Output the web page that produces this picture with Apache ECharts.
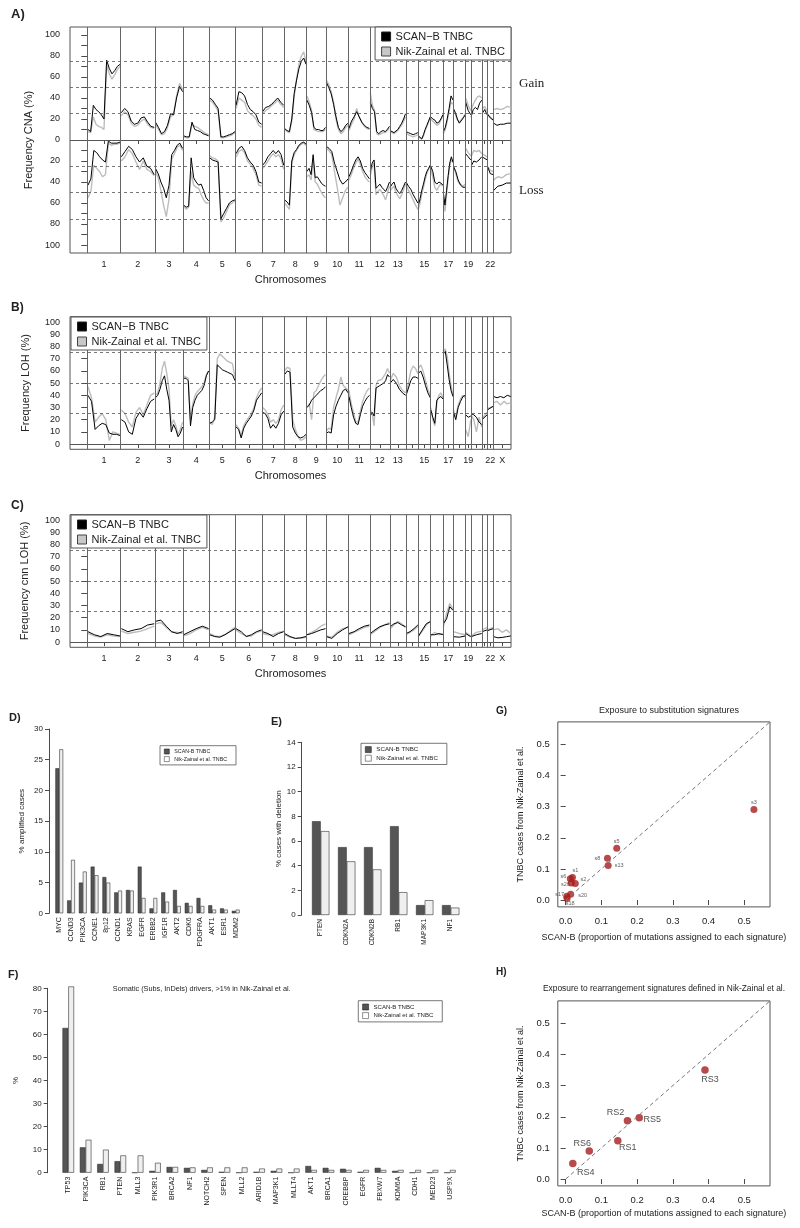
<!DOCTYPE html>
<html><head><meta charset="utf-8">
<script src="https://cdn.jsdelivr.net/npm/echarts@6/dist/echarts.min.js"></script>
<style>html,body{margin:0;padding:0;background:#fff}#c{width:800px;height:1228px}</style>
</head><body><div id="c"></div>
<script>
// ================= DATA =================
const chromNames = ['1','2','3','4','5','6','7','8','9','10','11','12','13','14','15','16','17','18','19','20','21','22','X'];
// relative chromosome widths as drawn in the figure
const chromLen = [250,257,212,195,198,200,165,168,145,170,160,150,120,92,93,95,75,93,40,83,40,45,133];
const labelsA = ['1','2','3','4','5','6','7','8','9','10','11','12','13','15','17','19','22'];
const labelsBC = ['1','2','3','4','5','6','7','8','9','10','11','12','13','15','17','19','22','X'];

// Panel A: CNA gain / loss frequency (%) along each chromosome
const cnaGainScanB = [
 [10,8,33,29,27,24,20,76,68,63,66,70,72],[26,30,27,18,15,16,21,22,17,13,12],[17,12,6,8,14,25,24,40,51,46],
 [4,3,3,17,10,9,8,6,5,4],[40,38,34,30,3,3,4,5,6,8],[33,46,45,42,34,29,27,24,17,15],[27,31,32,34,37,40,36,33],
 [11,9,8,20,44,57,68,75,78,72],[38,33,26,12,10,10,9,9,12],[55,50,44,34,22,12,8,10,14,16],[11,18,22,27,22,17,14,12,11],
 [36,30,27,8,6,8,9,8,10,13],[9,8,7,8,10,13,16,20,25],[8,7,6,5,6,7],[4,3,1,5,10,14,18,22],[22,20,19,16,17,20,24],
 [8,12,20,30,42,38],[30,26,20,16,17,21,24],[36,28,24],[22,29,31,29,35,38],[25,29,24],[25,21,19],[16,14,15,15,16,16]];
const cnaGainNik = [
 [8,7,22,15,13,12,10,72,63,58,62,67,70],[23,27,24,16,13,14,18,20,15,12,11],[15,10,5,6,12,22,24,42,54,48],
 [3,2,2,15,13,12,10,8,6,5],[38,36,32,28,2,2,3,4,5,7],[30,40,38,36,28,25,23,20,14,12],[25,28,30,33,35,38,34,31],
 [10,8,7,18,42,58,72,80,84,74],[42,36,28,10,9,8,8,8,10],[57,53,46,36,20,10,6,8,12,14],[9,15,20,30,22,17,13,11,10],
 [45,33,28,6,5,6,7,7,9,11],[8,7,6,7,9,12,14,18,22],[7,5,4,3,4,5],[3,2,1,4,9,13,17,22],[20,18,16,14,15,19,24],
 [6,10,18,28,36,34],[28,25,19,17,18,22,25],[40,33,28],[28,34,38,41,42,40],[29,32,27],[24,22,19],[29,30,29,30,32,31]];
const cnaLossScanB = [
 [43,37,10,12,16,19,21,1,3,3,3,2],[16,11,6,9,16,21,17,25,27,33],[27,32,40,46,55,43,14,10,5,3,8],
 [62,64,63,17,36,40,43,42,48,55,58],[17,19,20,21,75,70,65,60,58,57],[13,8,6,10,17,21,24,30,40,41],[24,21,16,13,10,13,10,14,24],
 [57,59,62,20,12,9,5,3,2,4],[30,27,33,14,36,35,38,41,43,44],[6,8,11,22,30,38,42,40,37],[35,30,24,19,16,20,27,31,34,37],
 [30,22,19,46,44,42,45,47,49,45,40],[45,42,40,46,49,51,48,44,40],[40,44,47,52,56,60],[62,56,48,42,35,30,27,24],[25,30,40,42,40,41,43],
 [50,62,48,34,22,16,21],[25,30,38,43,45,45],[13,16,19],[25,20,21,19,16],[16,19],[25,32,33],[48,44,43,41,41]];
const cnaLossNik = [
 [55,49,24,27,30,35,33,3,5,4,4,3],[20,16,9,13,21,28,20,28,30,34],[29,36,48,62,73,56,18,13,7,5,10],
 [63,66,64,30,43,45,46,52,57,60,60],[15,17,18,20,78,74,68,62,60,58],[16,11,9,12,20,23,27,33,43,44],[27,24,20,16,13,16,14,18,28],
 [60,63,66,22,14,10,6,4,3,5],[35,33,38,20,40,42,46,50,53,55],[8,10,14,30,45,62,55,48,45],[38,33,27,22,18,23,30,35,38,40],
 [34,26,22,52,49,47,50,53,57,50,44],[48,46,44,50,53,56,52,47,42],[42,48,52,57,62,66],[66,60,52,45,38,32,28,24],[27,35,45,48,44,42,44],
 [55,68,52,36,24,18,22],[25,32,40,42,44,42],[8,12,15],[16,10,11,10,13],[13,16],[25,29,30],[38,35,36,33,32]];

// Panel B: LOH frequency (%)
const lohScanB = [
 [40,35,12,15,17,16,9,8,8,7],[20,18,10,8,21,26,22,29,35,37],[38,40,45,52,56,45,36,10,16,12,6,9,14],
 [54,54,52,15,30,36,40,42,44,48,56,60],[17,18,20,65,63,61,60,59,58,57,52],[14,12,5,13,17,20,23,28,36,39,42],[26,25,21,13,16,13,17,24,27],
 [57,60,59,14,9,6,5,6,8],[30,32,36,38,40,42,44,45,47],[9,10,9,24,31,36,40,44,45,42],[39,30,22,17,16,24,31,35,38,40],
 [23,26,23,46,47,48,48,50,52,57,55],[50,53,50,45,42,40],[40,46,52,55,55,54],[58,60,55,48,42,38],[28,22,17,36,38,39,37],
 [74,76,65,53,44,39],[26,20,30,35,39,40],[24,22,23],[25,24,22,18,16],[20,24],[28,31],[39,38,39,38,40,39]];
const lohNik = [
 [47,38,18,22,25,20,3,10,9,8],[28,25,18,14,26,30,24,32,40,42],[40,42,50,62,68,58,45,15,20,15,8,12,18],
 [56,55,54,20,33,40,43,45,47,50,57,60],[18,16,22,70,74,72,70,68,67,66,55],[16,13,7,15,19,22,25,30,38,43,46],[30,28,24,18,20,17,20,28,32],
 [60,63,62,20,12,6,3,4,6],[30,33,20,42,44,48,52,55,57],[11,13,12,30,38,45,55,48,46,44],[44,33,26,18,18,27,35,40,44,46],
 [28,25,15,48,52,52,53,54,58,62,58],[52,58,55,48,44,42],[42,50,60,64,62,58],[62,65,60,52,45,40],[30,20,15,34,40,42,38],
 [76,78,72,58,48,40],[28,22,32,37,40,38],[12,6,20],[24,20,10,22,14],[21,26],[29,31],[34,35,32,35,33,34]];

// Panel C: copy-number-neutral LOH frequency (%)
const cnnScanB = [
 [8.5,6,4.5,7,6,5],[11,8.5,10,11,14,15],[17,18,13,8.5,7,8.5],[6,8.5,11,13,11],[6,4.5,4,6,8.5,11],[11,8.5,4.5,6,8.5,10],
 [8.5,7,4.5,7,8.5],[7,4.5,3,3.5,4.5],[6,7,8.5,10,11],[4.5,3,7,10,12.6],[7,8.5,11,13,14],[7,10,12.6,14,15],[12.6,15,16,14,12.6],
 [7,8.5,11,14],[4.5,10,15,16.7],[6,6,7,6],[15,19,29,26],[4.4,4,5],[7,4.4],[4.4,6,7],[8.5,10],[9.3,11],[4.4,3.5,3.8,4.4,5]];
const cnnNik = [
 [7,5,4,6,5,4.5],[9,7,8,9,11,13],[15,16,12,8,8,7],[5,7,10,12,10],[7,5,4.5,6,9,12],[10,7,5,5,8,9],
 [7,6,6,8,9],[6,4,3,3,4],[6,8,10,13,15],[5,4,8,11,12],[6,8,10,12,13],[6,9,12,14,16],[11,14,17,15,12],
 [6,8,10,13],[5,9,14,17],[5,8,6,7],[12.6,23.5,31.7,27],[8.5,7,6],[8,5],[5,8,9],[10,12],[10,12],[10,11,8,10,7]];

// Panel D: amplifications
const ampGenes = ['MYC','CCND3','PIK3CA','CCNE1','8p12','CCND1','KRAS','EGFR','ERBB2','IGF1R','AKT2','CDK6','PDGFRA','AKT1','ESR1','MDM2'];
const ampScanB = [23.6,2.1,5.0,7.6,5.9,3.4,3.8,7.6,0.8,3.4,3.8,1.7,2.5,1.3,0.8,0.4];
const ampNik   = [26.7,8.7,6.8,6.2,5.0,3.7,3.7,2.5,2.5,1.9,1.2,1.2,1.2,0.6,0.6,0.6];

// Panel E: deletions
const delGenes = ['PTEN','CDKN2A','CDKN2B','RB1','MAP3K1','NF1'];
const delScanB = [7.6,5.5,5.5,7.2,0.8,0.8];
const delNik   = [6.8,4.35,3.7,1.85,1.2,0.6];

// Panel F: somatic drivers
const drvGenes = ['TP53','PIK3CA','RB1','PTEN','MLL3','PIK3R1','BRCA2','NF1','NOTCH2','SPEN','MLL2','ARID1B','MAP3K1','MLLT4','AKT1','BRCA1','CREBBP','EGFR','FBXW7','KDM6A','CDH1','MED23','USP9X'];
const drvScanB = [62.8,11.0,3.8,5.0,0,0.8,2.5,2.1,1.2,0.4,0,0.4,0.8,0,2.9,2.1,1.7,0.4,2.1,0.8,0,0,0];
const drvNik   = [80.8,14.3,10.0,7.5,7.5,4.3,2.5,2.3,2.3,2.3,2.3,1.8,1.8,1.8,1.2,1.2,1.2,1.2,1.2,1.2,1.2,1.2,1.2];

// Panel G: substitution signatures
const sigNames = ['s3','s5','s8','s13','s1','s6','s2','s26','s17','s20','s18'];
const sigScanB = [0.527,0.143,0.117,0.119,0.019,0.013,0.027,0.016,0.003,0.014,0.004];
const sigNik   = [0.291,0.166,0.134,0.111,0.072,0.068,0.053,0.055,0.012,0.019,0.005];

// Panel H: rearrangement signatures
const rsNames = ['RS1','RS2','RS3','RS4','RS5','RS6'];
const rsScanB = [0.146,0.173,0.390,0.020,0.206,0.066];
const rsNik   = [0.123,0.187,0.350,0.050,0.197,0.090];

// ================= LAYOUT / STYLE =================
const FONT = '"Liberation Sans", Arial, Helvetica, sans-serif';
const SERIF = '"Liberation Serif", "Times New Roman", serif';
const AX = '#4a4a4a', TXT = '#222';
const BLACK = '#000', GREY = '#bdbdbd', DARKBAR = '#555', LIGHTBAR = '#efefef', RED = '#A51D1D';

const chromStart = []; let acc = 0;
chromLen.forEach(l => { chromStart.push(acc); acc += l; });
const genomeEnd = acc;
const chromCenter = chromStart.map((s, i) => s + chromLen[i] / 2);
const nameAt = v => { for (let i = 0; i < chromCenter.length; i++) if (Math.abs(chromCenter[i] - v) < 1e-6) return chromNames[i]; return ''; };
const range = (a, b, st) => { const r = []; for (let v = a; v <= b + 1e-9; v += st) r.push(Math.round(v * 1000) / 1000); return r; };

function toLine(arrs, sign) {
  const out = [];
  arrs.forEach((vals, i) => {
    const n = vals.length, s = chromStart[i], L = chromLen[i];
    vals.forEach((v, j) => out.push([s + L * (0.02 + 0.96 * (n > 1 ? j / (n - 1) : 0.5)), sign * v]));
    out.push([s + L, '-']);
  });
  return out;
}

function refLines(gi, hVals) {
  const d = [];
  hVals.forEach(v => d.push({ yAxis: v, lineStyle: { type: [3, 3], color: '#555', width: 0.8 } }));
  d.push({ yAxis: 0, lineStyle: { type: 'solid', color: '#555', width: 1 } });
  chromStart.forEach(s => d.push({ xAxis: s, lineStyle: { type: 'solid', color: '#666', width: 1 } }));
  return { type: 'line', xAxisIndex: gi, yAxisIndex: gi, data: [], silent: true, animation: false, z: 1,
    markLine: { silent: true, symbol: ['none', 'none'], animation: false, label: { show: false }, data: d } };
}

function lineSeries(name, gi, data, color, w, z) {
  return { name, type: 'line', xAxisIndex: gi, yAxisIndex: gi, data, showSymbol: false, symbol: 'none',
    connectNulls: false, silent: true, animation: false, z,
    lineStyle: { color, width: w }, itemStyle: { color } };
}

function chromX(gi, labeled) {
  return { type: 'value', gridIndex: gi, min: -130, max: genomeEnd,
    axisLine: { show: false }, splitLine: { show: false },
    axisTick: { show: true, customValues: chromCenter, length: 4, lineStyle: { color: AX } },
    axisLabel: { customValues: chromCenter.filter((c, i) => labeled.includes(chromNames[i])), formatter: v => nameAt(v),
      fontSize: 9, color: TXT, margin: 7, fontFamily: FONT },
    name: 'Chromosomes', nameLocation: 'middle', nameGap: 21, nameTextStyle: { fontSize: 11, color: TXT, fontFamily: FONT } };
}

function pctY(gi, min, max, ticks, labels, fmt, title, gap) {
  return { type: 'value', gridIndex: gi, min, max, axisLine: { show: false }, splitLine: { show: false },
    axisTick: { show: true, customValues: ticks, length: 6, lineStyle: { color: AX } },
    axisLabel: { customValues: labels, formatter: fmt, fontSize: 9, color: TXT, margin: 10, fontFamily: FONT },
    name: title, nameLocation: 'middle', nameGap: gap, nameTextStyle: { fontSize: 11, color: TXT, fontFamily: FONT } };
}

const legendABC = (pos) => Object.assign({
  orient: 'vertical', backgroundColor: '#fff', borderColor: '#555', borderWidth: 1, borderRadius: 0,
  padding: [4, 6, 3, 6], itemGap: 4, itemWidth: 9, itemHeight: 9, icon: 'rect', selectedMode: false, z: 20,
  textStyle: { fontSize: 11, color: TXT, fontFamily: FONT },
  data: [{ name: 'SCAN−B TNBC', itemStyle: { color: BLACK, borderColor: '#222', borderWidth: 1 } },
         { name: 'Nik-Zainal et al. TNBC', itemStyle: { color: '#c8c8c8', borderColor: '#444', borderWidth: 1 } }]
}, pos);

const legendBar = (pos, fs, iw) => Object.assign({
  orient: 'vertical', backgroundColor: '#fff', borderColor: '#555', borderWidth: 0.8, borderRadius: 0,
  padding: [3, 9, 3, 4], itemGap: 2, itemWidth: iw, itemHeight: iw, icon: 'rect', selectedMode: false, z: 20,
  textStyle: { fontSize: fs, color: TXT, fontFamily: FONT },
  data: [{ name: 'SCAN-B TNBC', itemStyle: { color: DARKBAR, borderColor: '#222', borderWidth: 0.6 } },
         { name: 'Nik-Zainal et al. TNBC', itemStyle: { color: '#fff', borderColor: '#444', borderWidth: 0.6 } }]
}, pos);

function barY(gi, max, interval, title, gap, offset, fs) {
  return { type: 'value', gridIndex: gi, min: 0, max, interval, offset,
    axisLine: { show: true, lineStyle: { color: AX, width: 1 } }, splitLine: { show: false },
    axisTick: { show: true, length: 4, lineStyle: { color: AX } },
    axisLabel: { fontSize: fs, color: TXT, margin: 6, fontFamily: FONT },
    name: title, nameLocation: 'middle', nameGap: gap, nameTextStyle: { fontSize: fs, color: TXT, fontFamily: FONT } };
}
function barX(gi, cats, fs) {
  return { type: 'category', gridIndex: gi, data: cats, boundaryGap: true,
    axisLine: { show: false }, axisTick: { show: false },
    axisLabel: { interval: 0, rotate: 90, fontSize: fs, color: TXT, margin: 4, fontFamily: FONT } };
}
function barPair(gi, a, b, bw) {
  const common = { type: 'bar', xAxisIndex: gi, yAxisIndex: gi, barWidth: bw, barGap: '0%', silent: true, animation: false, clip: false };
  return [
    Object.assign({ name: 'SCAN-B TNBC', data: a, itemStyle: { color: DARKBAR, borderColor: '#222', borderWidth: 0.5 } }, common),
    Object.assign({ name: 'Nik-Zainal et al. TNBC', data: b, itemStyle: { color: LIGHTBAR, borderColor: '#333', borderWidth: 0.6 } }, common)
  ];
}

const sigTicks = [0, 0.1, 0.2, 0.3, 0.4, 0.5];
function sigAxis(gi, dim, title, gap) {
  return { type: 'value', gridIndex: gi, min: -0.022, max: 0.572, axisLine: { show: false }, splitLine: { show: false },
    axisTick: { show: true, customValues: sigTicks, length: 5, lineStyle: { color: AX } },
    axisLabel: { customValues: sigTicks, formatter: v => v.toFixed(1), fontSize: 9.5, color: TXT, margin: dim === 'x' ? 9 : 8, fontFamily: FONT },
    name: title, nameLocation: 'middle', nameGap: gap, nameTextStyle: { fontSize: 9, color: TXT, fontFamily: FONT } };
}
const diag = { silent: true, symbol: ['none', 'none'], animation: false, label: { show: false },
  lineStyle: { type: [4, 3], color: '#777', width: 1 }, data: [[{ coord: [0, 0] }, { coord: [0.572, 0.572] }]] };

const sigOffset = { s3: [0, -7], s5: [0, -7], s8: [-10, 0], s13: [11, 0], s1: [3, -7], s6: [-7, -2], s2: [8, -4],
  s26: [-6, 2], s17: [-7, -2], s20: [12, 1], s18: [3, 5] };
const rsOffset = { RS1: [10, 7], RS2: [-12, -8], RS3: [5, 9], RS4: [13, 9], RS5: [13, 2], RS6: [-7, -8] };

const grids = [
  { left: 70, top: 27, width: 441, height: 226 },        // A
  { left: 70, top: 316.7, width: 441, height: 132.6 },   // B
  { left: 70, top: 514.7, width: 441, height: 132.6 },   // C
  { left: 53.4, top: 729, width: 188.2, height: 184.3 }, // D
  { left: 307.7, top: 742.3, width: 156, height: 172.7 },// E
  { left: 59.6, top: 988.3, width: 399, height: 184.4 }, // F
  { left: 557.8, top: 721.9, width: 212.2, height: 185 },// G
  { left: 557.8, top: 1000.9, width: 212.2, height: 185 }// H
].map((g, i) => Object.assign({ show: i < 3 || i > 5, borderColor: '#555', borderWidth: 1, backgroundColor: 'transparent' }, g));

const txt = (text, x, y, fs, opts) => Object.assign({ type: 'text', left: x, top: y,
  style: Object.assign({ text, fontSize: fs, fontFamily: FONT, fill: TXT }, opts || {}) });

const option = {
  animation: false,
  backgroundColor: '#fff',
  textStyle: { fontFamily: FONT },
  grid: grids,
  xAxis: [
    chromX(0, labelsA), chromX(1, labelsBC), chromX(2, labelsBC),
    barX(3, ampGenes, 7), barX(4, delGenes, 6.5), barX(5, drvGenes, 7),
    sigAxis(6, 'x', 'SCAN-B (proportion of mutations assigned to each signature)', 26),
    sigAxis(7, 'x', 'SCAN-B (proportion of mutations assigned to each signature)', 23)
  ],
  yAxis: [
    pctY(0, -107.6, 107.6, range(-100, 100, 10), range(-100, 100, 20), v => String(Math.abs(Math.round(v))), 'Frequency CNA (%)', 34),
    pctY(1, -4.3, 104.5, range(0, 100, 10), range(0, 100, 10), v => String(Math.round(v)), 'Frequency LOH (%)', 39),
    pctY(2, -4.3, 104.5, range(0, 100, 10), range(0, 100, 10), v => String(Math.round(v)), 'Frequency cnn LOH (%)', 40),
    barY(3, 30, 5, '% amplified cases', 23, 4.4, 8),
    barY(4, 14, 2, '% cases with deletion', 16, 6, 8),
    barY(5, 80, 10, '%', 28, 11.9, 8),
    sigAxis(6, 'y', 'TNBC cases from Nik-Zainal et al.', 33),
    sigAxis(7, 'y', 'TNBC cases from Nik-Zainal et al.', 33)
  ],
  legend: [
    legendABC({ right: 289, top: 27 }),
    legendABC({ left: 71, top: 317 }),
    legendABC({ left: 71, top: 515 }),
    legendBar({ left: 160, top: 745.7 }, 5.3, 5),
    legendBar({ left: 361, top: 743.3 }, 6.2, 6),
    legendBar({ left: 358.3, top: 1000.7 }, 6, 6)
  ],
  series: [
    refLines(0, [25, 50, 75, -25, -50, -75]),
    lineSeries('Nik-Zainal et al. TNBC', 0, toLine(cnaGainNik, 1), GREY, 1.4, 2),
    lineSeries('Nik-Zainal et al. TNBC', 0, toLine(cnaLossNik, -1), GREY, 1.4, 2),
    lineSeries('SCAN−B TNBC', 0, toLine(cnaGainScanB, 1), BLACK, 1, 3),
    lineSeries('SCAN−B TNBC', 0, toLine(cnaLossScanB, -1), BLACK, 1, 3),

    refLines(1, [25, 50, 75]),
    lineSeries('Nik-Zainal et al. TNBC', 1, toLine(lohNik, 1), GREY, 1.4, 2),
    lineSeries('SCAN−B TNBC', 1, toLine(lohScanB, 1), BLACK, 1, 3),

    refLines(2, [25, 50, 75]),
    lineSeries('Nik-Zainal et al. TNBC', 2, toLine(cnnNik, 1), GREY, 1.4, 2),
    lineSeries('SCAN−B TNBC', 2, toLine(cnnScanB, 1), BLACK, 1, 3),

    ...barPair(3, ampScanB, ampNik, 3.9),
    ...barPair(4, delScanB, delNik, 8.67),
    ...barPair(5, drvScanB, drvNik, 5.78),

    { type: 'scatter', xAxisIndex: 6, yAxisIndex: 6, symbolSize: 7, silent: true, animation: false,
      itemStyle: { color: RED },
      data: sigNames.map((n, i) => ({ name: n, value: [sigScanB[i], sigNik[i]],
        label: { show: true, position: 'inside', offset: sigOffset[n], formatter: n, fontSize: 5.5, color: '#333', fontFamily: FONT } })),
      markLine: diag },
    { type: 'scatter', xAxisIndex: 7, yAxisIndex: 7, symbolSize: 7.5, silent: true, animation: false,
      itemStyle: { color: RED },
      data: rsNames.map((n, i) => ({ name: n, value: [rsScanB[i], rsNik[i]],
        label: { show: true, position: 'inside', offset: rsOffset[n], formatter: n, fontSize: 9, color: TXT, fontFamily: FONT } })),
      markLine: diag }
  ],
  graphic: [
    txt('A)', 11, 8, 13, { fontWeight: 'bold' }),
    txt('B)', 11, 302, 12, { fontWeight: 'bold' }),
    txt('C)', 11, 500, 12, { fontWeight: 'bold' }),
    txt('D)', 9, 712, 11, { fontWeight: 'bold' }),
    txt('E)', 271, 716, 11, { fontWeight: 'bold' }),
    txt('F)', 8, 969, 11, { fontWeight: 'bold' }),
    txt('G)', 496, 706, 10, { fontWeight: 'bold' }),
    txt('H)', 496, 967, 10, { fontWeight: 'bold' }),
    txt('Gain', 519, 77, 13, { fontFamily: SERIF }),
    txt('Loss', 519, 184, 13, { fontFamily: SERIF }),
    { type: 'text', x: 201.7, y: 989, style: { text: 'Somatic (Subs, InDels) drivers, >1% in Nik-Zainal et al.', fontSize: 7.3, fontFamily: FONT, fill: TXT, textAlign: 'center', textVerticalAlign: 'middle' } },
    { type: 'text', x: 669, y: 711, style: { text: 'Exposure to substitution signatures', fontSize: 9, fontFamily: FONT, fill: TXT, textAlign: 'center', textVerticalAlign: 'middle' } },
    { type: 'text', x: 664, y: 988.3, style: { text: 'Exposure to rearrangement signatures defined in Nik-Zainal et al.', fontSize: 8.4, fontFamily: FONT, fill: TXT, textAlign: 'center', textVerticalAlign: 'middle' } }
  ]
};

const chart = echarts.init(document.getElementById('c'), null, { renderer: 'canvas' });
chart.setOption(option);
</script>
</body></html>
